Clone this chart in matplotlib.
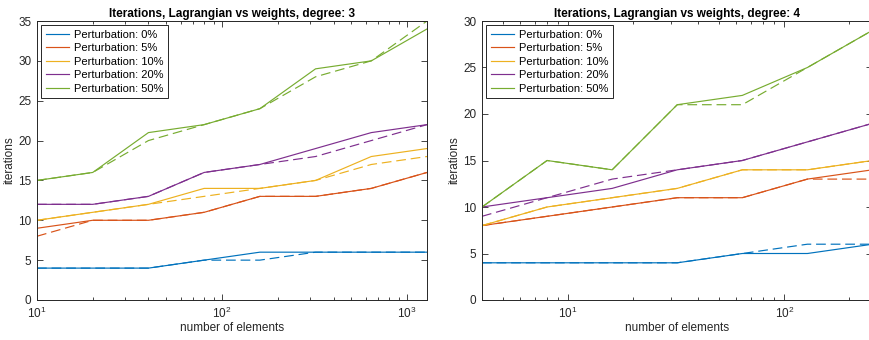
import matplotlib
matplotlib.use("Agg")
import matplotlib.pyplot as plt
from matplotlib.ticker import LogLocator, NullFormatter, MultipleLocator

plt.rcParams['font.family'] = ['Liberation Sans', 'DejaVu Sans']
plt.rcParams['lines.scale_dashes'] = False

labels = ["Perturbation: 0%", "Perturbation: 5%", "Perturbation: 10%",
          "Perturbation: 20%", "Perturbation: 50%"]
colors = ["#0072BD", "#D95319", "#EDB120", "#7E2F8E", "#77AC30"]

# degree 3
x3 = [10, 20, 40, 80, 160, 320, 640, 1280]
lag3 = [
    [4, 4, 4, 5, 6, 6, 6, 6],
    [9, 10, 10, 11, 13, 13, 14, 16],
    [10, 11, 12, 14, 14, 15, 18, 19],
    [12, 12, 13, 16, 17, 19, 21, 22],
    [15, 16, 21, 22, 24, 29, 30, 34],
]
wts3 = [
    [4, 4, 4, 5, 5, 6, 6, 6],
    [8, 10, 10, 11, 13, 13, 14, 16],
    [10, 11, 12, 13, 14, 15, 17, 18],
    [12, 12, 13, 16, 17, 18, 20, 22],
    [15, 16, 20, 22, 24, 28, 30, 35],
]

# degree 4
x4 = [4, 8, 16, 32, 64, 128, 256]
lag4 = [
    [4, 4, 4, 4, 5, 5, 6],
    [8, 9, 10, 11, 11, 13, 14],
    [8, 10, 11, 12, 14, 14, 15],
    [10, 11, 12, 14, 15, 17, 19],
    [10, 15, 14, 21, 22, 25, 29],
]
wts4 = [
    [4, 4, 4, 4, 5, 6, 6],
    [8, 9, 10, 11, 11, 13, 13],
    [8, 10, 11, 12, 14, 14, 15],
    [9, 11, 13, 14, 15, 17, 19],
    [10, 15, 14, 21, 21, 25, 29],
]

W, H = 870, 340
fig = plt.figure(figsize=(W / 100, H / 100), dpi=100)
axc = (0.15, 0.15, 0.15)

def setup(ax, x, lag, wts, title, xmin, xmax, ymax):
    for i in range(len(labels)):
        ax.plot(x, lag[i], color=colors[i], lw=0.85, label=labels[i])
        ax.plot(x, wts[i], color=colors[i], lw=0.85, linestyle=(0, (7, 3.5)))
    ax.set_xscale('log')
    ax.set_xlim(xmin, xmax)
    ax.set_ylim(0, ymax)
    ax.yaxis.set_major_locator(MultipleLocator(5))
    ax.xaxis.set_minor_locator(LogLocator(base=10, subs=range(2, 10)))
    ax.xaxis.set_minor_formatter(NullFormatter())
    ax.tick_params(which='both', direction='in', top=True, right=True,
                   colors=axc, labelsize=8.5, labelcolor=axc)
    ax.tick_params(which='major', length=4, width=0.6)
    ax.tick_params(which='minor', length=2.2, width=0.6)
    ax.tick_params(axis='y', pad=4)
    ax.tick_params(axis='x', pad=4)
    for s in ax.spines.values():
        s.set_color(axc)
        s.set_linewidth(0.7)
    ax.set_title(title, fontsize=8.5, fontweight='bold', color='black', pad=3)
    ax.set_xlabel("number of elements", fontsize=8.5, color=axc, labelpad=1)
    ax.set_ylabel("iterations", fontsize=8.5, color=axc, labelpad=2)
    leg = ax.legend(loc='upper left', fontsize=8, handlelength=2.1,
                    handletextpad=0.4, borderpad=0.4, labelspacing=0.31,
                    fancybox=False, framealpha=1, borderaxespad=0.4)
    leg.get_frame().set_edgecolor(axc)
    leg.get_frame().set_linewidth(0.7)

bottom = (H - 300) / H
height = (300 - 21) / H
ax1 = fig.add_axes([37 / W, bottom, (427 - 37) / W, height])
ax2 = fig.add_axes([482 / W, bottom, (872.5 - 482) / W, height])

setup(ax1, x3, lag3, wts3, "Iterations, Lagrangian vs weights, degree: 3", 10, 1280, 35)
setup(ax2, x4, lag4, wts4, "Iterations, Lagrangian vs weights, degree: 4", 4, 256, 30)

fig.savefig("out.png", dpi=100)
